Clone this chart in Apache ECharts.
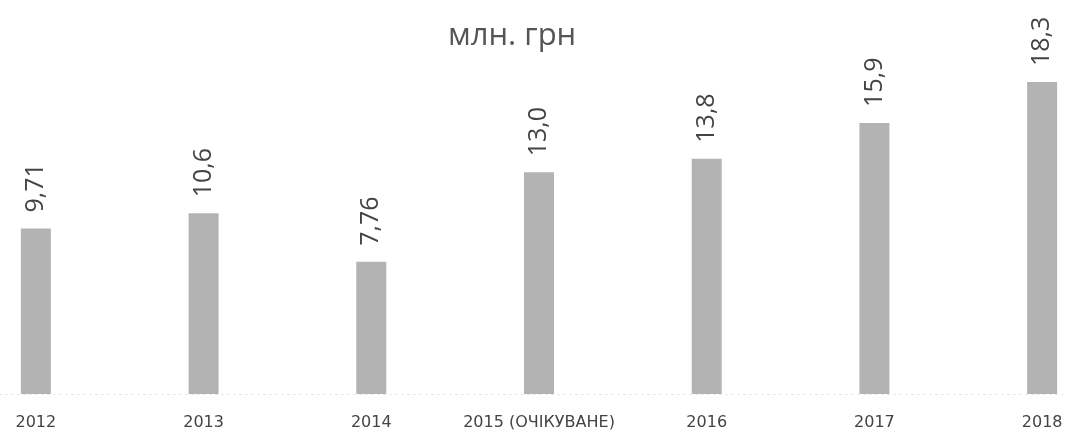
<!DOCTYPE html>
<html>
<head>
<meta charset="utf-8">
<script src="https://cdn.jsdelivr.net/npm/echarts@6/dist/echarts.min.js"></script>
<style>
  html, body { margin: 0; padding: 0; background: #fff; }
  #chart { width: 1067px; height: 434px; }
</style>
</head>
<body>
<div id="chart"></div>
<script>
// роки
var years = ['2012', '2013', '2014', '2015 (ОЧІКУВАНЕ)', '2016', '2017', '2018'];
// значення, млн. грн
var values = [9.71, 10.6, 7.76, 13.0, 13.8, 15.9, 18.3];

var chart = echarts.init(document.getElementById('chart'));
var option = {
    backgroundColor: '#fff',
    animation: false,
    title: {
        text: 'млн. грн',
        left: 443,
        top: 16,
        textStyle: {
            fontFamily: 'Open Sans',
            fontSize: 31,
            fontWeight: 'normal',
            color: '#555'
        }
    },
    grid: {
        left: -48,
        right: -59,
        top: 53,
        bottom: 40,
        outerBoundsMode: 'none'
    },
    xAxis: {
        type: 'category',
        data: years,
        axisTick: { show: false },
        axisLine: {
            lineStyle: { color: '#dcdcdc', type: [1, 5], width: 1 }
        },
        axisLabel: {
            interval: 0,
            margin: 21,
            fontFamily: 'DejaVu Sans',
            fontSize: 16,
            color: '#444'
        }
    },
    yAxis: {
        type: 'value',
        min: 0,
        max: 20,
        show: false,
        splitLine: { show: false }
    },
    series: [{
        type: 'bar',
        data: values,
        barWidth: 30,
        itemStyle: { color: '#b3b3b3' },
        label: {
            show: true,
            position: 'top',
            rotate: 90,
            align: 'left',
            verticalAlign: 'middle',
            distance: 16,
            fontFamily: 'Open Sans',
            fontSize: 25,
            color: '#444',
            formatter: function (p) {
                return p.value.toPrecision(3).replace('.', ',');
            }
        }
    }]
};
chart.setOption(option);
</script>
</body>
</html>
